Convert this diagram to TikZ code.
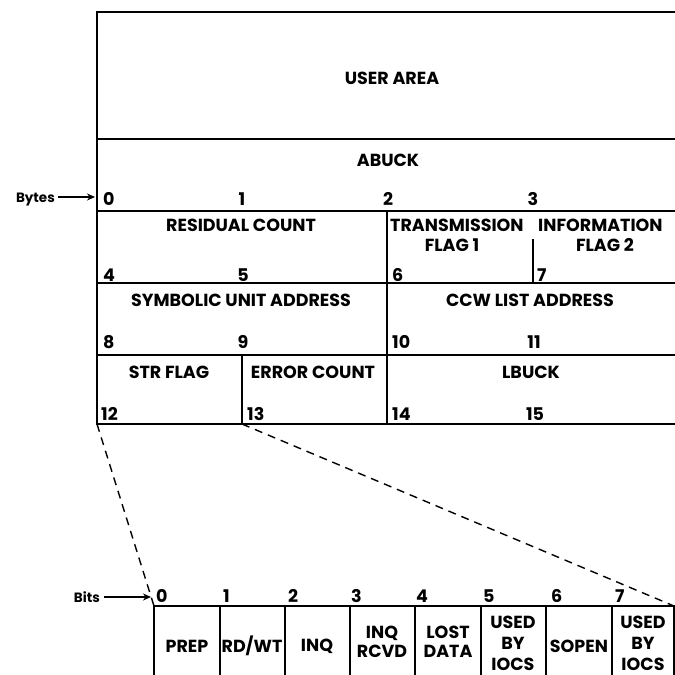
\documentclass[tikz,border=0pt]{standalone}
\usepackage{fontspec}
\setmainfont{Poppins}
\usetikzlibrary{arrows.meta}
\begin{document}
\begin{tikzpicture}[x=1pt,y=-1pt,
  rule/.style={line width=1.7pt, line cap=rect},
  zoomline/.style={line width=1.4pt, dash pattern=on 8pt off 6pt},
  lbl/.style={font=\fontsize{17.5}{22}\selectfont\bfseries, inner sep=0pt, align=center},
  num/.style={font=\fontsize{17.5}{20}\selectfont\bfseries, inner sep=0pt, anchor=base west},
  numc/.style={font=\fontsize{17.5}{20}\selectfont\bfseries, inner sep=0pt, anchor=base},
  side/.style={font=\fontsize{13.5}{16}\selectfont\bfseries, inner sep=0pt, anchor=base east},
  pointer/.style={line width=1.4pt, -{Stealth[length=8pt,width=7pt]}}
]
\useasboundingbox (0,0) rectangle (675,675);
\fill[white] (0,0) rectangle (675,675);

% ---- main frame ----
\coordinate (tl) at (97,12);
\coordinate (bl) at (97,424);
\coordinate (br) at (677,424);
\coordinate (c13) at (242,424);
\draw[rule] (677,12) -- (tl) -- (bl) -- (br);
\foreach \y in {139,211,283,355} \draw[rule] (97,\y) -- (677,\y);
\draw[rule] (387,211) -- (387,424);
\draw[rule] (533,240) -- (533,283);
\draw[rule] (242,355) -- (c13);

% ---- texts in frame ----
\node[lbl] (user) at (392,78) {USER AREA};
\node[lbl] (abuck) at (388,160) {ABUCK};
\node[lbl] (resid) at (241,225) {RESIDUAL COUNT};
\node[lbl, anchor=west] (trans) at (390,225) {TRANSMISSION};
\node[lbl, anchor=west] (info) at (538,225) {INFORMATION};
\node[lbl] (flag1) at (452,245) {FLAG 1};
\node[lbl] (flag2) at (605,245) {FLAG 2};
\node[lbl] (sua) at (241,300) {SYMBOLIC UNIT ADDRESS};
\node[lbl] (ccw) at (530,300) {CCW LIST ADDRESS};
\node[lbl] (str) at (169,372) {STR FLAG};
\node[lbl] (err) at (313,372) {ERROR COUNT};
\node[lbl] (lbuck) at (531,372) {LBUCK};

% byte numbers
\node[num]  (n0) at (103,205) {0};
\node[numc] (n1) at (242,205) {1};
\node[numc] (n2) at (388,205) {2};
\node[numc] (n3) at (533,205) {3};
\node[num]  (n4) at (103,281) {4};
\node[numc] (n5) at (243,281) {5};
\node[num]  (n6) at (392,281) {6};
\node[num]  (n7) at (537,281) {7};
\node[num]  (n8) at (103,348) {8};
\node[numc] (n9) at (243,348) {9};
\node[num]  (n10) at (392,348) {10};
\node[numc] (n11) at (534,348) {11};
\node[num]  (n12) at (101,420) {12};
\node[num]  (n13) at (247,420) {13};
\node[num]  (n14) at (392,420) {14};
\node[numc] (n15) at (535,420) {15};

% Bytes pointer
\node[side] (bytes) at (55,202) {Bytes};
\coordinate (bytesTip) at (95,197);
\draw[pointer] (bytes.east |- bytesTip) ++(3,0) -- (bytesTip);

% ---- bits box ----
\coordinate (btl) at (154,606);
\coordinate (btr) at (674,606);
\draw[rule] (btl) -- (btr);
\foreach \x in {154,220,285,350,415,481,546,612,674} \draw[rule] (\x,606) -- (\x,678);

% zoom lines
\draw[zoomline] (bl) -- (btl);
\draw[zoomline] (c13) -- (btr);

% bit numbers
\foreach \x/\n in {156/0,223/1,288/2,351/3,416/4,483/5,551/6,615/7}
  \node[num] (bit\n) at (\x,602) {\n};

% Bits pointer
\node[side] (bits) at (100,602) {Bits};
\coordinate (bitsTip) at (151,597);
\draw[pointer] (bits.east |- bitsTip) ++(4,0) -- (bitsTip);

% bit cell texts
\node[lbl] (prep) at (187,646) {PREP};
\node[lbl] (rdwt) at (252,646) {RD/WT};
\node[lbl] (inq) at (317,646) {INQ};
\node[lbl, font=\fontsize{17.5}{19}\selectfont\bfseries] (inqr) at (382,642) {INQ\\RCVD};
\node[lbl, font=\fontsize{17.5}{19}\selectfont\bfseries] (lost) at (448,642) {LOST\\DATA};
\node[lbl, font=\fontsize{17.5}{21}\selectfont\bfseries] (used1) at (513,643) {USED\\BY\\IOCS};
\node[lbl] (sopen) at (579,646) {SOPEN};
\node[lbl, font=\fontsize{17.5}{21}\selectfont\bfseries] (used2) at (643,643) {USED\\BY\\IOCS};
\end{tikzpicture}
\end{document}
